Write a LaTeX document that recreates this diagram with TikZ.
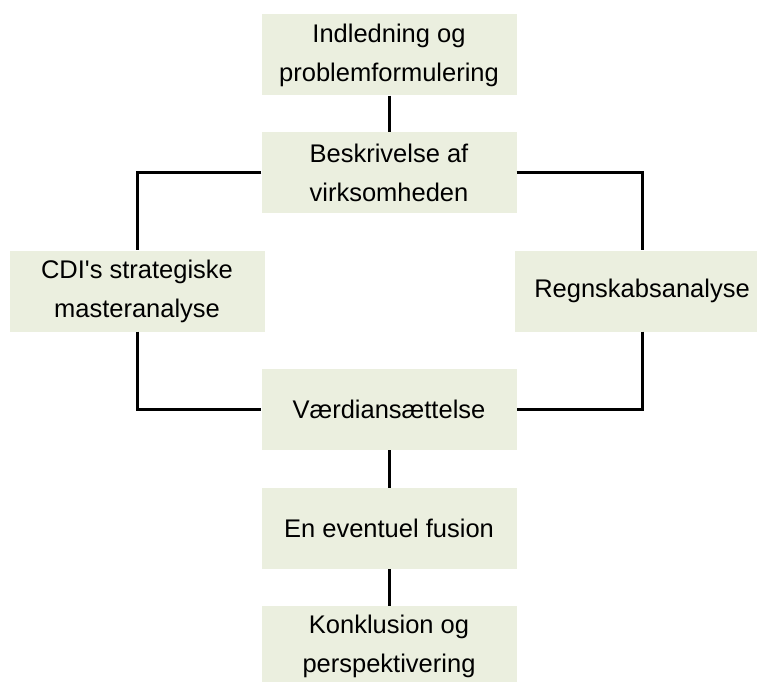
\documentclass[tikz,border=0pt]{standalone}
\usepackage{fontspec}
\setmainfont{Liberation Sans}
\begin{document}
\begin{tikzpicture}[x=1pt,y=-1pt,
  stepbox/.style={fill=boxfill, minimum width=255pt, minimum height=81pt,
    inner sep=0pt, align=center, font=\fontsize{25.5}{39}\selectfont},
  link/.style={line width=3pt, draw=black, line join=miter}]
\definecolor{boxfill}{RGB}{235,239,223}
\useasboundingbox (0,0) rectangle (757,682);
% boxes
\node[stepbox] (b1) at (389,55) {Indledning og\\problemformulering};
\node[stepbox] (b2) at (389,172.5) {Beskrivelse af\\virksomheden};
\node[stepbox] (b3) at (137,291) {CDI\textquotesingle s strategiske\\masteranalyse};
\node[stepbox] (b4) at (642,291) {Regnskabsanalyse};
\node[stepbox] (b5) at (389,409.5) {Værdiansættelse};
\node[stepbox] (b6) at (389,528.5) {En eventuel fusion};
\node[stepbox] (b7) at (389,646.5) {Konklusion og\\perspektivering};
% connectors
\draw[link] (b1) -- (b2);
\draw[link] (b2.west) -| (b3.north);
\draw[link] (b2.east) -| (b4.north);
\draw[link] (b3.south) |- (b5.west);
\draw[link] (b4.south) |- (b5.east);
\draw[link] (b5) -- (b6);
\draw[link] (b6) -- (b7);
\end{tikzpicture}
\end{document}
